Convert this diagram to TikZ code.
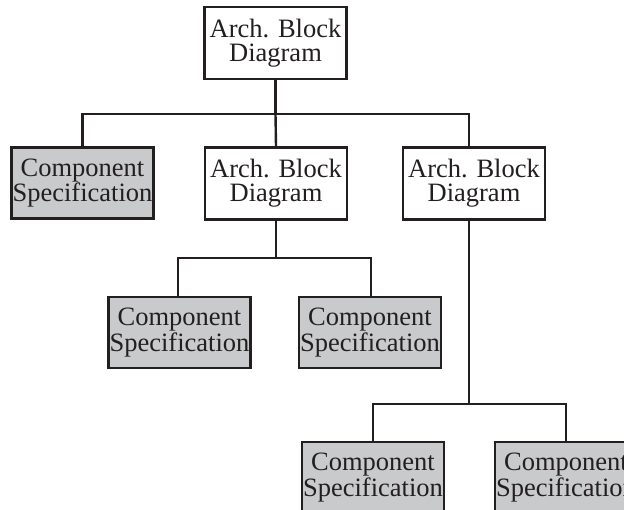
\documentclass[tikz,border=0pt]{standalone}
\usepackage{fontspec}
\setmainfont{Liberation Serif}
\definecolor{boxgray}{RGB}{201,202,204}
\definecolor{ink}{RGB}{35,31,32}
\begin{document}
\begin{tikzpicture}[x=1pt,y=-1pt,
  box/.style={draw=ink,line width=2.6pt,inner sep=0pt,align=center,text=ink,
    font=\fontsize{26.5}{24}\selectfont},
  arch/.style={box,fill=white,minimum width=142pt,minimum height=72pt},
  comp/.style={box,fill=boxgray,minimum width=142pt,minimum height=71pt},
  conn/.style={draw=ink,line width=2.4pt}]
\useasboundingbox (0,0) rectangle (624,510);
\clip (0,0) rectangle (624,510);
% nodes
\node[arch] (A)  at (275.5,43)  {Arch. Block\\Diagram};
\node[arch] (A2) at (276,183.5) {Arch. Block\\Diagram};
\node[arch] (A3) at (474,183.5) {Arch. Block\\Diagram};
\node[comp] (C1) at (82.5,183)  {Component\\Specification};
\node[comp] (C2) at (179.5,332.5) {Component\\Specification};
\node[comp] (C3) at (370,332.5) {Component\\Specification};
\node[comp] (C4) at (373,477.5) {Component\\Specification};
\node[comp] (C5) at (566,477.5) {Component\\Specification};
% bus coordinates
\coordinate (b1) at (275.5,114);
\coordinate (s3) at (469,114);
\coordinate (b2) at (276,258);
\coordinate (b3) at (469,404);
% connectors
\draw[conn] (A.south) -- (b1);
\draw[conn] (C1.north) |- (b1) -- (s3) -- (s3 |- A3.north);
\draw[conn] (b1) -- (A2.north);
\draw[conn] (A2.south) -- (b2);
\draw[conn] ([xshift=-1.5pt]C2.north) |- (b2) -| ([xshift=1pt]C3.north);
\draw[conn] (s3 |- A3.south) -- (b3);
\draw[conn] (C4.north) |- (b3) -| (C5.north);
\end{tikzpicture}
\end{document}
